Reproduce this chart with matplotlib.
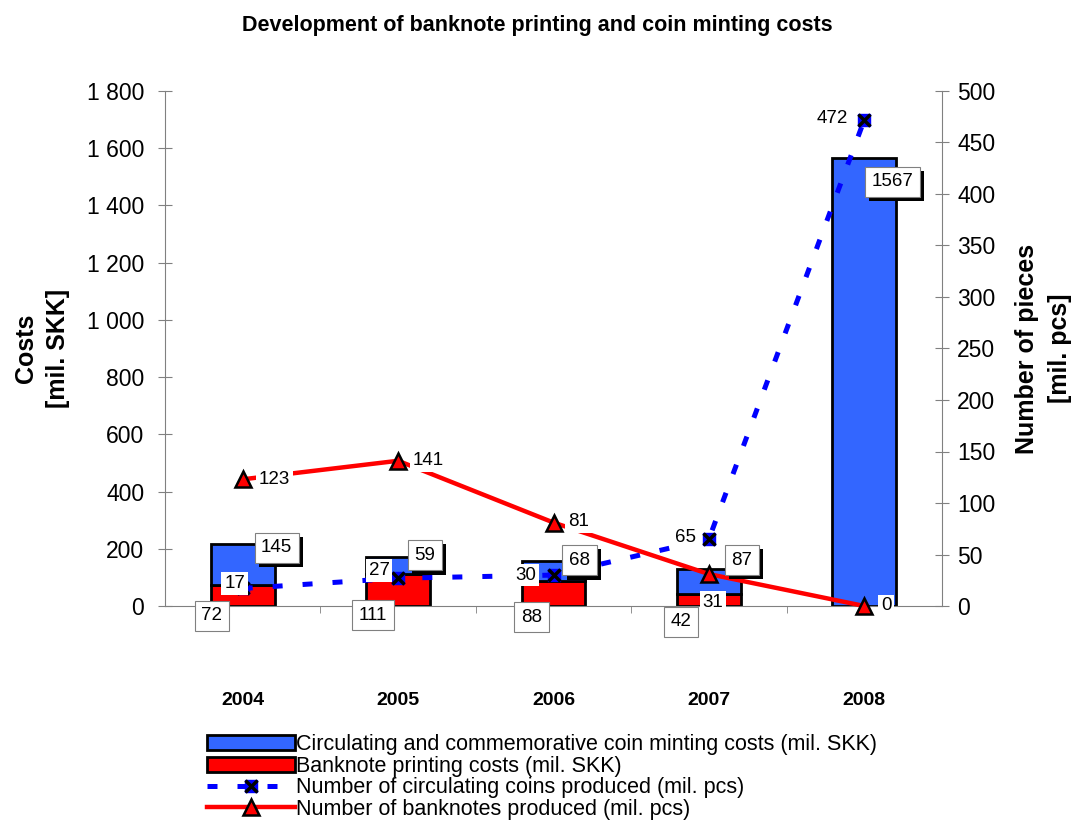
import matplotlib
matplotlib.use("Agg")
import matplotlib.pyplot as plt
import matplotlib.patheffects as pe
from matplotlib.patches import Patch
from matplotlib.ticker import FuncFormatter, FixedLocator
from matplotlib.legend_handler import HandlerTuple

plt.rcParams['font.family'] = ['Liberation Sans', 'DejaVu Sans']

years = ["2004", "2005", "2006", "2007", "2008"]
banknote_costs = [72, 111, 88, 42, 0]
coin_costs = [145, 59, 68, 87, 1567]
coins_produced = [17, 27, 30, 65, 472]
banknotes_produced = [123, 141, 81, 31, 0]

# label offsets in pixels (dx, dy), converted to points below
coin_cost_off = [(34, -4), (27, 2), (26, 1), (33, 9), (28, -24)]
note_cost_off = [(-31, -10), (-25, -9), (-22, -11), (-28, -16), (0, 0)]
note_line_off = [(32, 0), (30, 0), (25, 1), (4, -28), (22, 0)]
coin_line_off = [(-8, 5), (-19, 8), (-28, 0), (-23, 2), (-32, 1)]

BLUE = "#3366ff"
RED = "#ff0000"
GRAY = "#808080"
PX = 0.72

fig = plt.figure(figsize=(10.74, 8.26), dpi=100)
ax = fig.add_axes([165 / 1074, 1 - 606 / 826, 777 / 1074, 515 / 826])
ax2 = ax.twinx()

x = list(range(len(years)))
w = 0.41
ax.bar(x, banknote_costs, w, color=RED, edgecolor="black", linewidth=2)
ax.bar(x, coin_costs, w, bottom=banknote_costs, color=BLUE, edgecolor="black", linewidth=2)

ax.set_xlim(-0.5, len(years) - 0.5)
ax.set_ylim(0, 1800)
ax2.set_ylim(0, 500)
ax.set_yticks(range(0, 1801, 200))
ax2.set_yticks(range(0, 501, 50))
ax.yaxis.set_major_formatter(FuncFormatter(lambda v, p: f"{v:,.0f}".replace(",", " ")))

ax.set_xticks(x)
ax.set_xticklabels(years, fontsize=14, fontweight="bold")
ax.tick_params(axis="x", length=0, pad=62)
ax.xaxis.set_minor_locator(FixedLocator([i + 0.5 for i in x[:-1]]))
ax.tick_params(axis="x", which="minor", length=5, color=GRAY, direction="out")
ax.tick_params(axis="y", direction="inout", length=10, color=GRAY, labelsize=16.5, pad=10)
ax2.tick_params(axis="y", direction="inout", length=10, color=GRAY, labelsize=16.5, pad=6)

for a in (ax, ax2):
    a.spines["top"].set_visible(False)
    for s in a.spines.values():
        s.set_color(GRAY)
ax.spines["right"].set_visible(False)
ax2.spines["left"].set_visible(False)
ax2.spines["bottom"].set_visible(False)

ax.set_ylabel("Costs\n[mil. SKK]", fontsize=18, fontweight="bold", labelpad=12, linespacing=1.45)
ax2.set_ylabel("Number of pieces\n[mil. pcs]", fontsize=18, fontweight="bold", labelpad=14,
               linespacing=1.45, rotation=90)

# lines on the right axis
coin_line, = ax2.plot(x, coins_produced, color="#0000ff", lw=3.6, dashes=(2, 4),
                      marker="s", markersize=9, markerfacecolor="#0000ff",
                      markeredgecolor="#0000ff", zorder=3)
coin_x, = ax2.plot(x, coins_produced, ls="none", marker="x", markersize=8,
                   markeredgecolor="black", markeredgewidth=2.5, zorder=4)
note_line, = ax2.plot(x, banknotes_produced, color=RED, lw=3.2, marker="^", markersize=11,
                      markerfacecolor=RED, markeredgecolor="black", markeredgewidth=1.8,
                      zorder=3, clip_on=False)

totals = [b + c for b, c in zip(banknote_costs, coin_costs)]

shadow = [pe.SimplePatchShadow(offset=(3, -3), shadow_rgbFace="black", alpha=1), pe.Normal()]

for i in x:
    dx, dy = coin_cost_off[i]
    t = ax2.annotate(str(coin_costs[i]), (i, totals[i]), xycoords=ax.transData,
                     xytext=(dx * PX, dy * PX), textcoords="offset points",
                     ha="center", va="center", fontsize=13.5, zorder=6,
                     bbox=dict(boxstyle="square,pad=0.35", fc="white", ec=GRAY, lw=0.8))
    t.get_bbox_patch().set_path_effects(shadow)
    if banknote_costs[i]:
        dx, dy = note_cost_off[i]
        ax2.annotate(str(banknote_costs[i]), (i, 0), xycoords=ax.transData,
                     xytext=(dx * PX, dy * PX), textcoords="offset points",
                     ha="center", va="center", fontsize=13.5, zorder=6, annotation_clip=False,
                     bbox=dict(boxstyle="square,pad=0.35", fc="white", ec=GRAY, lw=0.8))
    dx, dy = note_line_off[i]
    ax2.annotate(str(banknotes_produced[i]), (i, banknotes_produced[i]),
                 xytext=(dx * PX, dy * PX), textcoords="offset points",
                 ha="center", va="center", fontsize=13.5, zorder=5, annotation_clip=False,
                 bbox=dict(boxstyle="square,pad=0.15", fc="white", ec="none"))
    dx, dy = coin_line_off[i]
    ax2.annotate(str(coins_produced[i]), (i, coins_produced[i]),
                 xytext=(dx * PX, dy * PX), textcoords="offset points",
                 ha="center", va="center", fontsize=13.5, zorder=5, annotation_clip=False,
                 bbox=dict(boxstyle="square,pad=0.15", fc="white", ec="none"))

fig.suptitle("Development of banknote printing and coin minting costs",
             y=1 - 15 / 826, va="top", fontsize=15.5, fontweight="bold")

handles = [
    Patch(facecolor=BLUE, edgecolor="black", linewidth=2),
    Patch(facecolor=RED, edgecolor="black", linewidth=2),
    (coin_line, coin_x),
    note_line,
]
labels = [
    "Circulating and commemorative coin minting costs (mil. SKK)",
    "Banknote printing costs (mil. SKK)",
    "Number of circulating coins produced (mil. pcs)",
    "Number of banknotes produced (mil. pcs)",
]
fig.legend(handles, labels, loc="upper left", bbox_to_anchor=(207 / 1074, 1 - 734 / 826),
           frameon=False, fontsize=15.5, handlelength=4.1, handletextpad=0.05,
           labelspacing=0.03, borderpad=0, borderaxespad=0,
           handler_map={tuple: HandlerTuple(ndivide=1)})

fig.savefig("out.png", dpi=100)
